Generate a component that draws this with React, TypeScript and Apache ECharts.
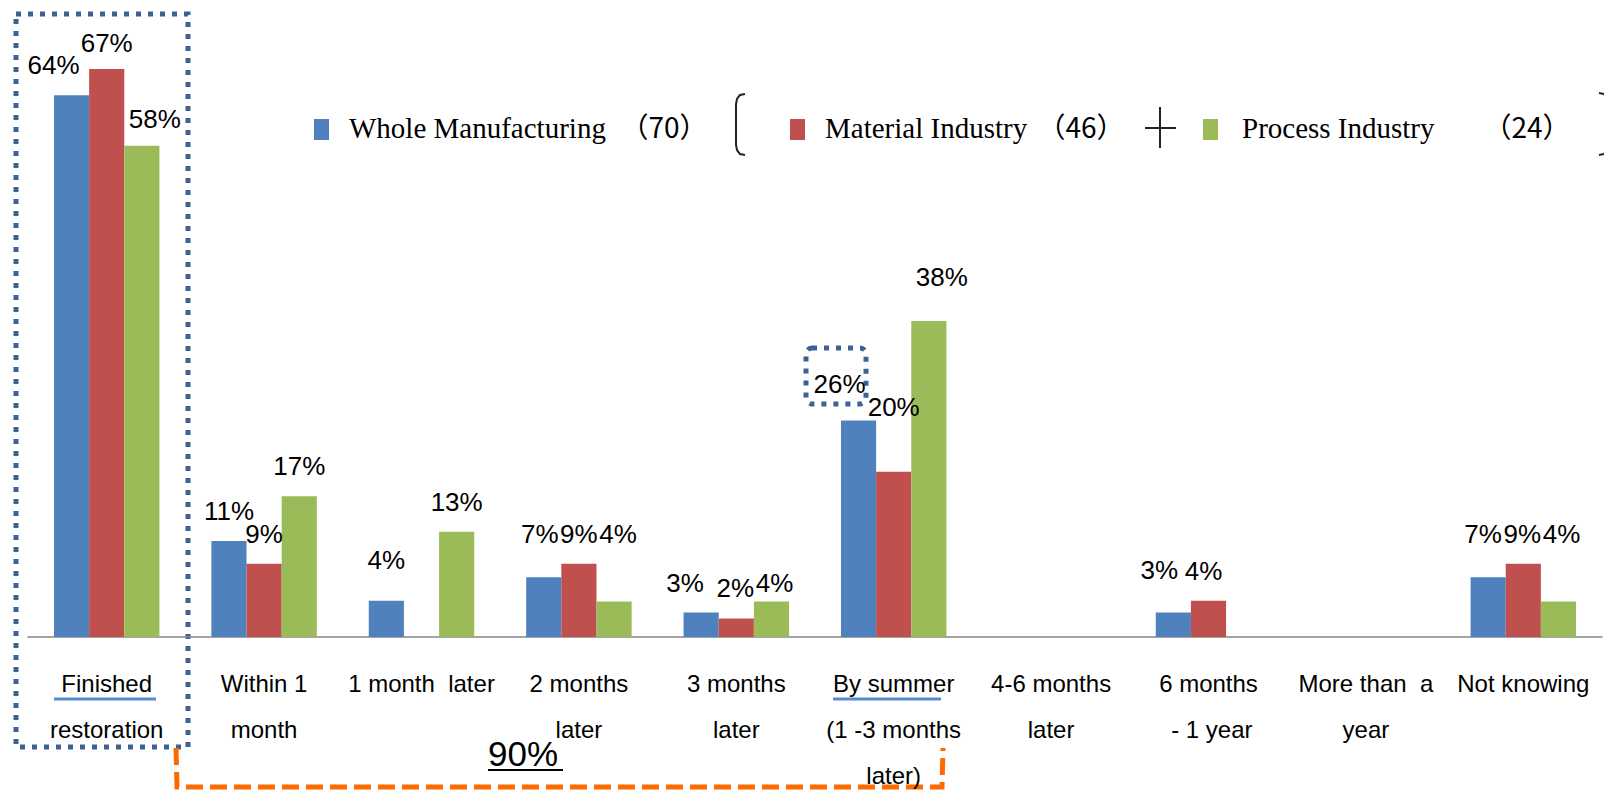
import React, { useEffect, useRef } from 'react';
import * as echarts from 'echarts';

const categories = [
  'Finished\nrestoration',
  'Within 1\nmonth',
  '1 month  later',
  '2 months\nlater',
  '3 months\nlater',
  'By summer\n(1 -3 months\nlater)',
  '4-6 months\nlater',
  '6 months\n - 1 year',
  'More than  a\nyear',
  'Not knowing',
];
const seriesNames = ['Whole Manufacturing', 'Material Industry', 'Process Industry'];
const sampleSizes = ['（70）', '（46）', '（24）'];
const wholeValues = [64.3, 11.4, 4.3, 7.1, 2.9, 25.7, 0, 2.9, 0, 7.1];
const materialValues = [67.4, 8.7, 0, 8.7, 2.2, 19.6, 0, 4.3, 0, 8.7];
const processValues = [58.3, 16.7, 12.5, 4.2, 4.2, 37.5, 0, 0, 0, 4.2];
const bracketLabel = '90%';

const colors = ['#4f81bd', '#c0504d', '#9bbb59'];
const labelNudges = [
  [[-18, 0], [0, 0], [0, -11], [-4, -13], [-16, 0], [-19, -6], [0, 0], [-14, -13], [0, 0], [-5, -13]],
  [[0, 4], [0, 0], [0, 0], [0, 0], [-1, 0], [0, -35], [0, 0], [-5, 0], [0, 0], [-1, 0]],
  [[13, 3], [0, 0], [0, 0], [4, -38], [3, 11], [13, -14], [0, 0], [0, 0], [0, 0], [3, -38]],
];

const SANS = '"Liberation Sans", Arial, sans-serif';
const SERIF = '"Liberation Serif", "Times New Roman", serif';
const CJK = '"Noto Sans CJK SC", sans-serif';

function txt(text: string, x: number, y: number, font: string, size: number, align = 'left') {
  return {
    type: 'text',
    x,
    y,
    silent: true,
    style: {
      text,
      fill: '#000',
      fontFamily: font,
      fontSize: size,
      align,
      verticalAlign: 'middle',
    },
  };
}

export default function App() {
  const ref = useRef<HTMLDivElement>(null);
  useEffect(() => {
    if (!ref.current) return;
    const chart = echarts.init(ref.current, undefined, { renderer: 'svg' });
    const allValues = [wholeValues, materialValues, processValues];
    const dotted = { stroke: '#3c6195', lineWidth: 5, lineDash: [5, 7], fill: 'none' };
    const markerX = [314, 790, 1203];
    const nameX = [349, 825, 1242];
    const sizeX = [664, 1081, 1527];

    const graphic: any[] = [];
    for (let i = 0; i < 3; i++) {
      graphic.push({
        type: 'rect',
        shape: { x: markerX[i], y: 119, width: 15, height: 21 },
        style: { fill: colors[i] },
        silent: true,
      });
      graphic.push(txt(seriesNames[i], nameX[i], 128, SERIF, 29));
      graphic.push(txt(sampleSizes[i], sizeX[i], 126, CJK, 28, 'center'));
    }
    // brackets and plus sign
    graphic.push({
      type: 'polyline',
      shape: { points: [[745, 94], [740, 95], [737, 99], [736, 104], [736, 145], [737, 150], [740, 154], [745, 155]] },
      style: { stroke: '#222', lineWidth: 2, fill: 'none' },
      silent: true,
    });
    graphic.push({
      type: 'polyline',
      shape: { points: [[1599, 93], [1604, 94], [1607, 98], [1608, 103], [1608, 145], [1607, 150], [1604, 154], [1599, 155]] },
      style: { stroke: '#222', lineWidth: 2, fill: 'none' },
      silent: true,
    });
    graphic.push({ type: 'line', shape: { x1: 1145, y1: 128, x2: 1176, y2: 128 }, style: { stroke: '#222', lineWidth: 2 }, silent: true });
    graphic.push({ type: 'line', shape: { x1: 1160, y1: 107, x2: 1160, y2: 148 }, style: { stroke: '#222', lineWidth: 2 }, silent: true });
    // dotted boxes
    graphic.push({ type: 'rect', shape: { x: 16, y: 14, width: 172, height: 733 }, style: dotted, silent: true });
    graphic.push({ type: 'rect', shape: { x: 806, y: 348, width: 60, height: 56, r: 6 }, style: dotted, silent: true });
    // underlines of axis labels
    graphic.push({ type: 'line', shape: { x1: 54, y1: 699, x2: 156, y2: 699 }, style: { stroke: '#5a8ad0', lineWidth: 3 }, silent: true });
    graphic.push({ type: 'line', shape: { x1: 833, y1: 699, x2: 941, y2: 699 }, style: { stroke: '#5a8ad0', lineWidth: 3 }, silent: true });
    // orange bracket
    graphic.push({
      type: 'polyline',
      shape: { points: [[176, 748], [177, 787], [942, 787], [943, 748]] },
      style: { stroke: '#ff6a00', lineWidth: 5, lineDash: [17, 7], fill: 'none' },
      silent: true,
    });
    graphic.push(txt(bracketLabel, 488, 753, SANS, 35));
    graphic.push({ type: 'line', shape: { x1: 488, y1: 770, x2: 563, y2: 770 }, style: { stroke: '#000', lineWidth: 2 }, silent: true });

    chart.setOption({
      animation: false,
      backgroundColor: '#fff',
      grid: { left: 28, right: 2, top: 5, bottom: 153, containLabel: false, outerBoundsMode: 'none' },
      xAxis: {
        type: 'category',
        data: categories,
        axisLine: { lineStyle: { color: '#868686', width: 1.5 } },
        axisTick: { length: 7, lineStyle: { color: '#868686', width: 1.5 } },
        axisLabel: {
          interval: 0,
          margin: 23,
          color: '#000',
          fontFamily: SANS,
          fontSize: 24,
          lineHeight: 46,
        },
      },
      yAxis: {
        type: 'value',
        min: 0,
        max: 75,
        show: false,
        splitLine: { show: false },
      },
      series: allValues.map((vals, s) => ({
        name: seriesNames[s],
        type: 'bar',
        barGap: '0%',
        barCategoryGap: '33%',
        itemStyle: { color: colors[s] },
        label: {
          show: true,
          position: 'top',
          distance: 17,
          color: '#000',
          fontFamily: SANS,
          fontSize: 26,
          formatter: (p: any) => (p.value > 0 ? Math.round(p.value) + '%' : ''),
        },
        data: vals.map((v, i) => ({ value: v, label: { offset: labelNudges[s][i] } })),
      })),
      graphic,
    });
    return () => chart.dispose();
  }, []);
  return <div ref={ref} style={{ position: 'fixed', left: 0, top: 0, width: 1604, height: 790 }} />;
}
